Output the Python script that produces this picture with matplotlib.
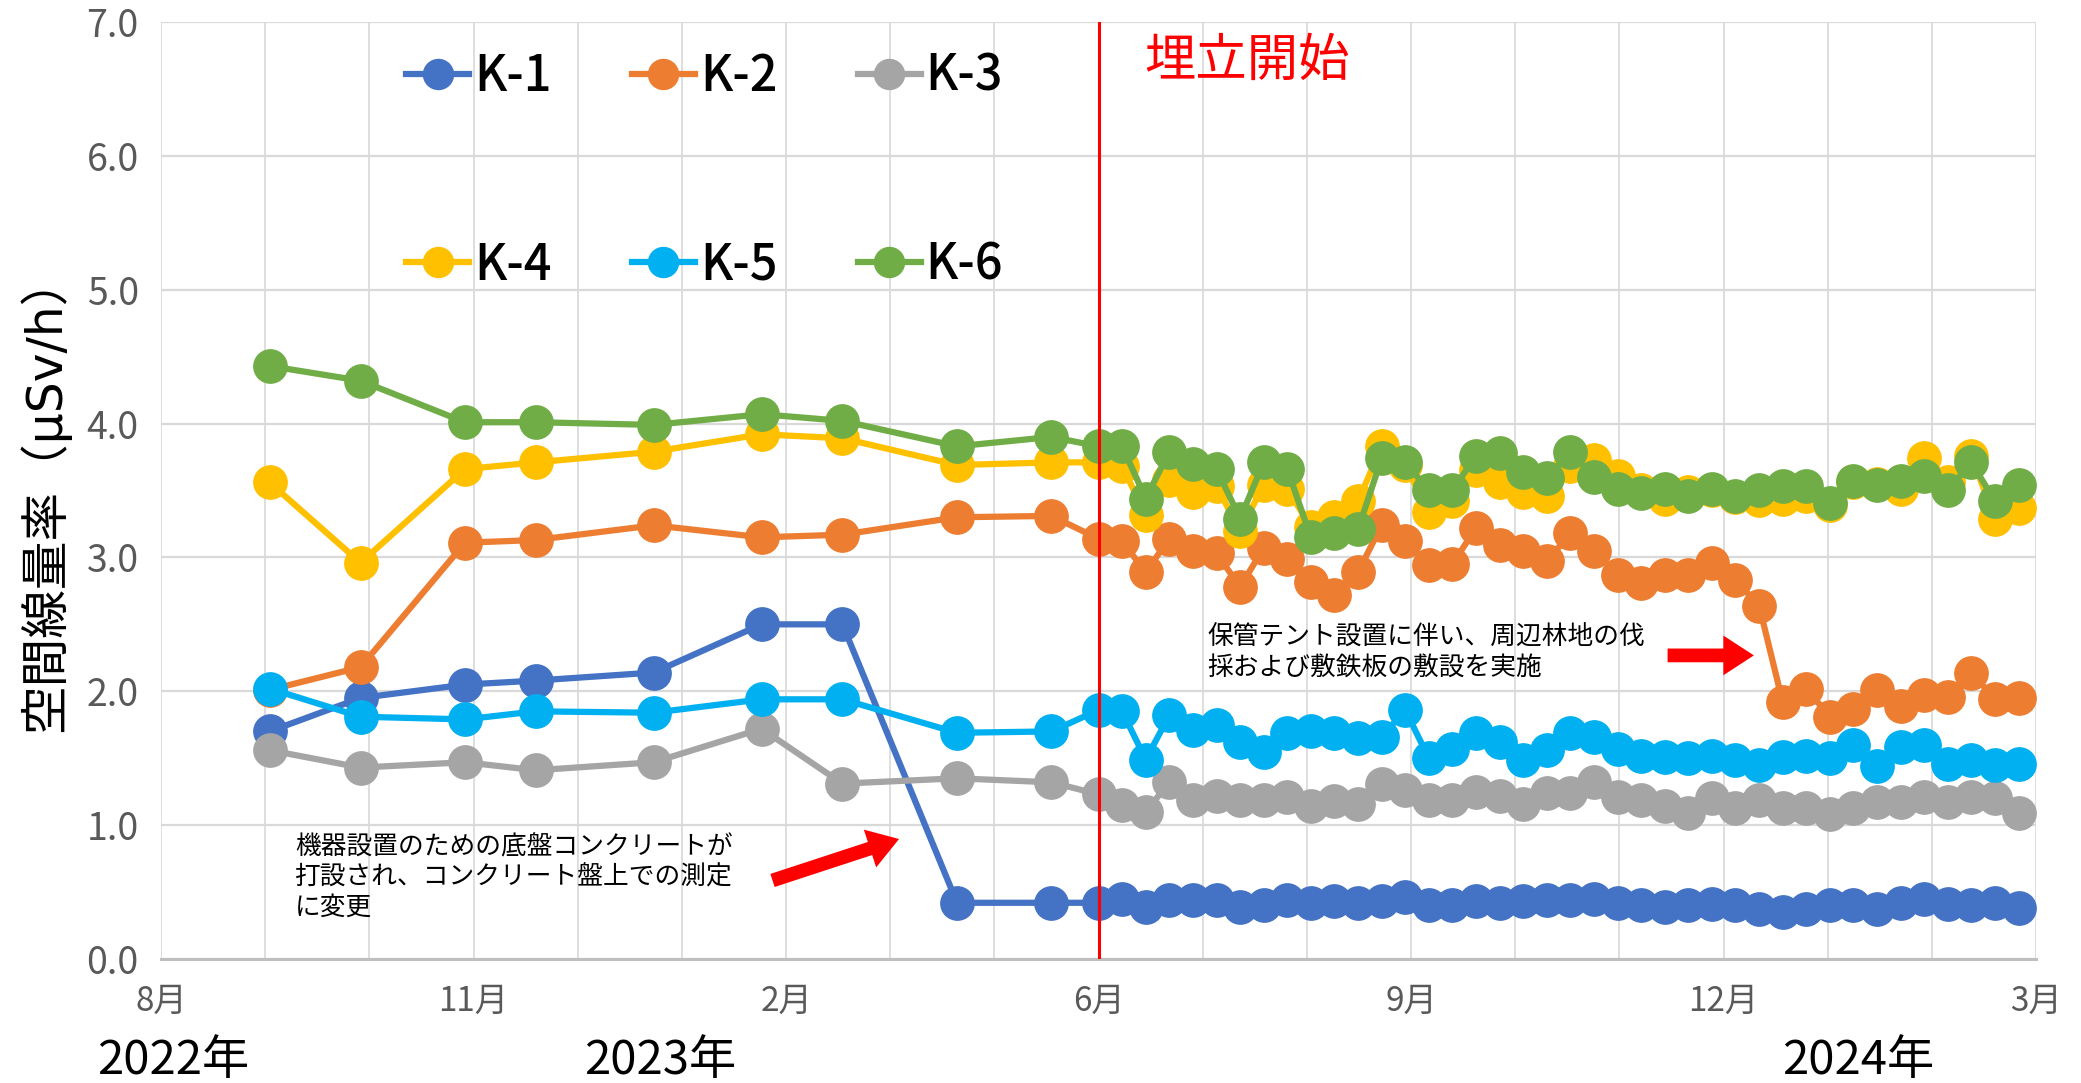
import matplotlib
matplotlib.use('Agg')
import matplotlib.pyplot as plt
import matplotlib.dates as mdates
import numpy as np
import pandas as pd

plt.rcParams['font.family'] = ['Noto Sans CJK JP', 'DejaVu Sans']

# ---------------- data ----------------
pre_dates = ['2022-09-28', '2022-10-25', '2022-11-25', '2022-12-16', '2023-01-20',
             '2023-02-21', '2023-03-17', '2023-04-20', '2023-05-18']
weekly_dates = list(pd.date_range('2023-06-01', periods=40, freq='7D').strftime('%Y-%m-%d'))
dates = pd.to_datetime(pre_dates + weekly_dates)

k1 = [1.70, 1.95, 2.05, 2.08, 2.14, 2.50, 2.50, 0.42, 0.42,
      0.42, 0.45, 0.39, 0.44, 0.44, 0.44, 0.39, 0.40, 0.44, 0.42, 0.43, 0.42, 0.43, 0.46,
      0.40, 0.40, 0.43, 0.42, 0.43, 0.44, 0.44, 0.45, 0.42, 0.40, 0.39, 0.40, 0.41, 0.40,
      0.37, 0.35, 0.37, 0.40, 0.40, 0.37, 0.42, 0.45, 0.41, 0.40, 0.42, 0.38]
k2 = [2.01, 2.18, 3.11, 3.13, 3.24, 3.15, 3.17, 3.30, 3.31,
      3.14, 3.12, 2.89, 3.14, 3.05, 3.03, 2.78, 3.07, 2.99, 2.82, 2.72, 2.89, 3.24, 3.12,
      2.94, 2.95, 3.22, 3.09, 3.05, 2.97, 3.18, 3.05, 2.87, 2.81, 2.87, 2.87, 2.96, 2.83,
      2.64, 1.92, 2.02, 1.81, 1.87, 2.01, 1.89, 1.97, 1.96, 2.14, 1.94, 1.95]
k3 = [1.56, 1.43, 1.47, 1.41, 1.47, 1.72, 1.31, 1.35, 1.32,
      1.23, 1.15, 1.10, 1.32, 1.19, 1.22, 1.19, 1.19, 1.21, 1.14, 1.18, 1.16, 1.31, 1.26,
      1.19, 1.19, 1.25, 1.22, 1.16, 1.24, 1.24, 1.32, 1.21, 1.19, 1.14, 1.09, 1.20, 1.13,
      1.19, 1.13, 1.13, 1.08, 1.13, 1.17, 1.17, 1.21, 1.17, 1.21, 1.20, 1.09]
k4 = [3.56, 2.96, 3.66, 3.71, 3.79, 3.92, 3.89, 3.69, 3.71,
      3.71, 3.68, 3.32, 3.58, 3.49, 3.53, 3.20, 3.54, 3.51, 3.23, 3.30, 3.42, 3.83, 3.69,
      3.34, 3.42, 3.65, 3.56, 3.49, 3.46, 3.68, 3.73, 3.61, 3.50, 3.44, 3.49, 3.50, 3.45,
      3.43, 3.44, 3.46, 3.39, 3.56, 3.55, 3.51, 3.74, 3.56, 3.76, 3.29, 3.37]
k5 = [2.02, 1.81, 1.79, 1.85, 1.84, 1.94, 1.94, 1.69, 1.70,
      1.86, 1.85, 1.49, 1.82, 1.71, 1.75, 1.62, 1.55, 1.69, 1.70, 1.69, 1.65, 1.66, 1.86,
      1.50, 1.57, 1.69, 1.62, 1.49, 1.56, 1.69, 1.66, 1.57, 1.52, 1.51, 1.50, 1.52, 1.49,
      1.45, 1.51, 1.52, 1.50, 1.60, 1.44, 1.58, 1.60, 1.46, 1.49, 1.45, 1.46]
k6 = [4.43, 4.32, 4.01, 4.01, 3.99, 4.07, 4.02, 3.83, 3.90,
      3.83, 3.83, 3.44, 3.79, 3.70, 3.66, 3.29, 3.71, 3.66, 3.15, 3.18, 3.21, 3.74, 3.71,
      3.50, 3.50, 3.76, 3.78, 3.64, 3.59, 3.79, 3.60, 3.51, 3.48, 3.51, 3.46, 3.51, 3.46,
      3.50, 3.53, 3.53, 3.41, 3.57, 3.54, 3.57, 3.61, 3.50, 3.71, 3.42, 3.54]

series_names = ['K-1', 'K-2', 'K-3', 'K-4', 'K-5', 'K-6']
series_colors = ['#4472C4', '#ED7D31', '#A5A5A5', '#FFC000', '#00B0F0', '#70AD47']
month_labels = ['8月', '', '', '11月', '', '', '2月', '', '', '6月', '', '', '9月', '', '', '12月', '', '', '3月']
year_labels = ['2022年', '2023年', '2024年']
landfill_start = '2023-06-01'
ylabel = '空間線量率（μSv/h）'
note1 = '機器設置のための底盤コンクリートが\n打設され、コンクリート盤上での測定\nに変更'
note2 = '保管テント設置に伴い、周辺林地の伐\n採および敷鉄板の敷設を実施'

# ---------------- figure ----------------
fig = plt.figure(figsize=(20.81, 10.83), dpi=100)
ax = fig.add_axes([0.0774, 0.1145, 0.9010, 0.8652])

narrow = ['Liberation Sans Narrow', 'Noto Sans CJK JP', 'DejaVu Sans']

lines = []
for name, vals, col in zip(series_names, [k1, k2, k3, k4, k5, k6], series_colors):
    ln, = ax.plot(dates, vals, '-o', color=col, lw=4.5, ms=24, label=name,
                  solid_joinstyle='round', zorder=3)
    lines.append(ln)

# axis ranges / grid
start_num = mdates.date2num(pd.Timestamp(landfill_start))
step = 30.91
x0 = start_num - 9 * step
grid_x = x0 + np.arange(19) * step
ax.set_xlim(x0, grid_x[-1])
ax.set_ylim(0, 7.0)
ax.set_xticks(grid_x)
ax.set_xticklabels(month_labels)
ax.set_yticks(np.arange(0, 7.01, 1.0))
ax.set_yticklabels([f'{v:.1f}' for v in np.arange(0, 7.01, 1.0)])
ax.grid(axis='y', color='#d9d9d9', lw=1.6, zorder=0)
ax.grid(axis='x', color='#d4d4d4', lw=1.1, zorder=0)
ax.set_axisbelow(True)
for s in ['top', 'right', 'left']:
    ax.spines[s].set_visible(False)
ax.spines['bottom'].set_color('#bfbfbf')
ax.spines['bottom'].set_linewidth(2.2)
ax.tick_params(axis='both', length=0, colors='#595959')
ax.tick_params(axis='y', pad=16)
ax.tick_params(axis='x', pad=18)
for t in ax.get_yticklabels():
    t.set_fontfamily(narrow)
    t.set_fontsize(27)
for t in ax.get_xticklabels():
    t.set_fontfamily(narrow)
    t.set_fontsize(24)

# landfill start
ax.axvline(start_num, color='#FF0000', lw=2.2, zorder=10)
ax.text(0.5246, 0.958, '埋立開始', transform=ax.transAxes, color='#FF0000',
        fontsize=37, va='center', ha='left')

# legend
order = [0, 3, 1, 4, 2, 5]
leg = ax.legend([lines[i] for i in order], [series_names[i] for i in order],
                ncol=3, loc='upper left', bbox_to_anchor=(0.1307, 0.968),
                frameon=False, borderaxespad=0, borderpad=0,
                handlelength=1.3, handletextpad=0.1, columnspacing=1.65,
                labelspacing=2.85, markerscale=0.9,
                prop={'family': narrow, 'size': 35, 'weight': 'medium'})

# annotations
ax.text(0.0714, 0.133, note1, transform=ax.transAxes, fontsize=18.5, va='top', ha='left',
        linespacing=1.2, color='black')
ax.text(0.558, 0.357, note2, transform=ax.transAxes, fontsize=18.5, va='top', ha='left',
        linespacing=1.2, color='black')
arrow_style = dict(arrowstyle='simple,head_length=1.0,head_width=1.3,tail_width=0.45',
                   color='#FF0000', lw=0, mutation_scale=22)
ax.annotate('', xy=(0.395, 0.129), xytext=(0.3247, 0.0829), xycoords='axes fraction',
            textcoords='axes fraction', arrowprops=arrow_style)
ax.annotate('', xy=(0.851, 0.324), xytext=(0.802, 0.324), xycoords='axes fraction',
            textcoords='axes fraction', arrowprops=arrow_style)

# y label and year labels
fig.text(44 / 2081, 0.545, ylabel, rotation=90, fontsize=35, va='center', ha='center',
         fontfamily=['DejaVu Sans', 'Noto Sans CJK JP'])
for lab, xp in zip(year_labels, [173, 660, 1858]):
    fig.text(xp / 2081, 0.0203, lab, fontsize=34, va='center', ha='center',
             fontfamily=narrow)

fig.savefig('out.png', dpi=100)
